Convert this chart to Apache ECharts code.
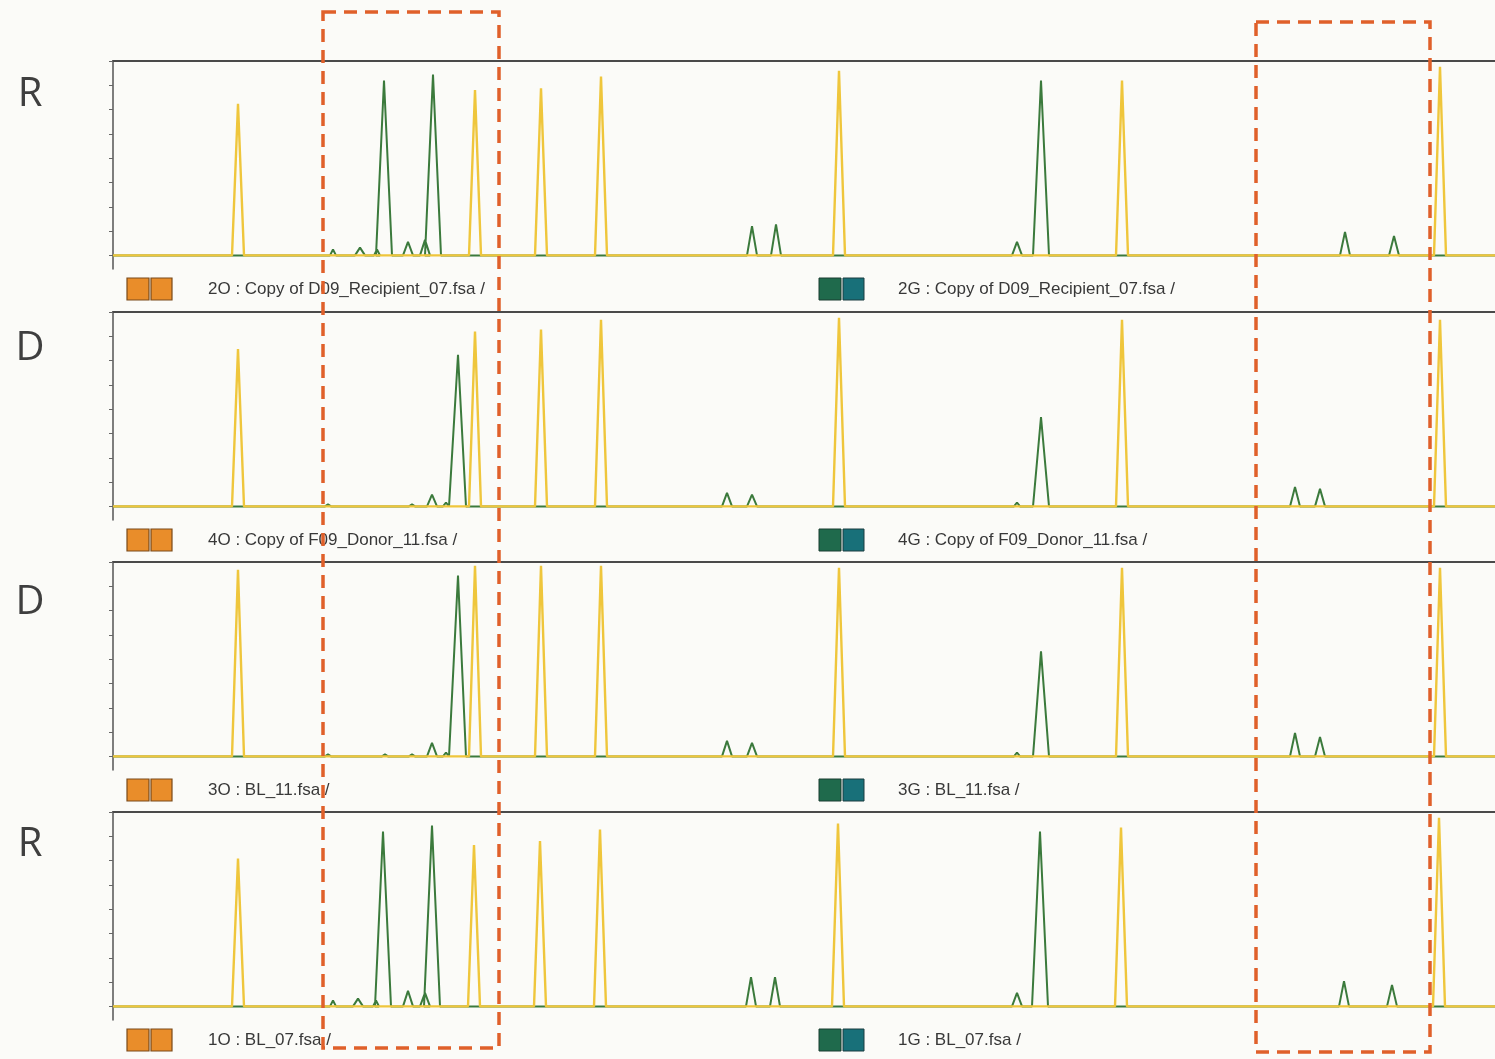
<!DOCTYPE html>
<html>
<head>
<meta charset="utf-8">
<script src="https://cdn.jsdelivr.net/npm/echarts@6/dist/echarts.min.js"></script>
<style>
  html, body { margin: 0; padding: 0; background: #fbfbf8; }
  #chart { width: 1495px; height: 1059px; }
</style>
</head>
<body>
<div id="chart"></div>
<script>
// ---------- data (x = migration position units, y = relative signal, 100 = panel top) ----------
const X_MAX = 1382;
const sampleLabels = ['R', 'D', 'D', 'R'];
const orangeTitles = [
  '2O : Copy of D09_Recipient_07.fsa /',
  '4O : Copy of F09_Donor_11.fsa /',
  '3O : BL_11.fsa /',
  '1O : BL_07.fsa /'
];
const greenTitles = [
  '2G : Copy of D09_Recipient_07.fsa /',
  '4G : Copy of F09_Donor_11.fsa /',
  '3G : BL_11.fsa /',
  '1G : BL_07.fsa /'
];
const yTickValues = [0, 12.5, 25, 37.5, 50, 62.5, 75, 87.5, 100];

// yellow (size standard) peaks
const yellowPos1 = [125, 362, 428, 488, 726, 1009, 1327];
const yellowH1   = [78, 85, 86, 92, 95, 90, 97];
const yellowPos2 = [125, 362, 428, 488, 726, 1009, 1327];
const yellowH2   = [81, 90, 91, 96, 97, 96, 96];
const yellowPos3 = [125, 362, 428, 488, 726, 1009, 1327];
const yellowH3   = [96, 98, 98, 98, 97, 97, 97];
const yellowPos4 = [125, 361, 427, 487, 725, 1008, 1326];
const yellowH4   = [76, 83, 85, 91, 94, 92, 97];

// green (sample) peaks
const greenPos1 = [220, 247, 264, 271, 295, 312, 320, 639, 663, 904, 928, 1232, 1281];
const greenH1   = [3, 4, 3, 90, 7, 8, 93, 15, 16, 7, 90, 12, 10];
const greenPos2 = [215, 299, 319, 333, 345, 614, 639, 904, 928, 1182, 1207];
const greenH2   = [1, 1, 6, 2, 78, 7, 6, 2, 46, 10, 9];
const greenPos3 = [215, 272, 299, 319, 333, 345, 614, 639, 904, 928, 1182, 1207];
const greenH3   = [1, 1, 1, 7, 2, 93, 8, 7, 2, 54, 12, 10];
const greenPos4 = [220, 245, 263, 270, 295, 312, 319, 638, 662, 904, 927, 1231, 1279];
const greenH4   = [3, 4, 3, 90, 8, 7, 93, 15, 15, 7, 90, 13, 11];

const yellowPanels = [[yellowPos1, yellowH1], [yellowPos2, yellowH2], [yellowPos3, yellowH3], [yellowPos4, yellowH4]];
const greenPanels  = [[greenPos1, greenH1], [greenPos2, greenH2], [greenPos3, greenH3], [greenPos4, greenH4]];

// ---------- build trace (baseline + triangular peak per value) ----------
function trace(pos, h, big, small, tiny) {
  const pts = [[0, 0]];
  for (let i = 0; i < pos.length; i++) {
    const w = h[i] >= 30 ? big : (h[i] > 3 ? small : tiny);
    pts.push([pos[i] - w, 0], [pos[i], h[i]], [pos[i] + w, 0]);
  }
  pts.push([X_MAX, 0]);
  return pts;
}

// ---------- layout ----------
const GRID_LEFT = 113;
const GRID_TOPS = [61, 312, 562, 812];
const LETTER_CENTERS = [95, 349, 603, 845];
const GRID_H = 208;
const Y_MIN = -7, Y_MAX = 100;

const grids = [], xAxes = [], yAxes = [], series = [], graphics = [];
const labelFont = "'Liberation Sans', Arial, sans-serif";

for (let p = 0; p < 4; p++) {
  grids.push({ left: GRID_LEFT, right: 0, top: GRID_TOPS[p], height: GRID_H, containLabel: false });
  xAxes.push({
    gridIndex: p, type: 'value', min: 0, max: X_MAX, position: 'bottom',
    axisLine: { show: true, lineStyle: { color: '#d2d2d0', width: 1 } },
    axisTick: { show: false }, axisLabel: { show: false }, splitLine: { show: false }
  });
  xAxes.push({
    gridIndex: p, type: 'value', min: 0, max: X_MAX, position: 'top',
    axisLine: { show: true, onZero: false, lineStyle: { color: '#4a4a4a', width: 2 } },
    axisTick: { show: false }, axisLabel: { show: false }, splitLine: { show: false }
  });
  yAxes.push({
    gridIndex: p, type: 'value', min: Y_MIN, max: Y_MAX,
    axisLine: { show: true, onZero: false, lineStyle: { color: '#555', width: 1.5 } },
    axisTick: { show: true, inside: false, length: 4, customValues: yTickValues, lineStyle: { color: '#666', width: 1 } },
    axisLabel: { show: false }, splitLine: { show: false }
  });
  series.push({
    type: 'line', xAxisIndex: p * 2, yAxisIndex: p, showSymbol: false, silent: true,
    data: trace(greenPanels[p][0], greenPanels[p][1], 8, 5, 3),
    lineStyle: { color: '#3b7a3c', width: 2 }, z: 2, animation: false
  });
  series.push({
    type: 'line', xAxisIndex: p * 2, yAxisIndex: p, showSymbol: false, silent: true,
    data: trace(yellowPanels[p][0], yellowPanels[p][1], 6, 6, 6),
    lineStyle: { color: '#efc63c', width: 2.4 }, z: 3, animation: false
  });

  // sample letter on the left
  graphics.push({
    type: 'text', x: 30, y: LETTER_CENTERS[p],
    style: { text: sampleLabels[p], font: "40px 'Open Sans', 'Noto Sans', sans-serif", fill: '#3f3f3f',
             textAlign: 'center', textVerticalAlign: 'middle' }
  });

  // label row under the panel
  const rowY = GRID_TOPS[p] + GRID_H + 20;
  graphics.push(
    { type: 'rect', shape: { x: 127, y: rowY - 11, width: 22, height: 22 }, style: { fill: '#e98d2a', stroke: '#7a4a1a', lineWidth: 1.2 } },
    { type: 'rect', shape: { x: 151, y: rowY - 11, width: 21, height: 22 }, style: { fill: '#e98d2a', stroke: '#7a4a1a', lineWidth: 1.2 } },
    { type: 'text', x: 208, y: rowY, style: { text: orangeTitles[p], font: '17px ' + labelFont, fill: '#383838', textVerticalAlign: 'middle' } },
    { type: 'rect', shape: { x: 819, y: rowY - 11, width: 22, height: 22 }, style: { fill: '#1f6a4c', stroke: '#1b3d30', lineWidth: 1 } },
    { type: 'rect', shape: { x: 843, y: rowY - 11, width: 21, height: 22 }, style: { fill: '#187079', stroke: '#1b3d40', lineWidth: 1 } },
    { type: 'text', x: 898, y: rowY, style: { text: greenTitles[p], font: '17px ' + labelFont, fill: '#383838', textVerticalAlign: 'middle' } }
  );
}

// highlighted regions (red dashed boxes)
graphics.push(
  { type: 'rect', z: 100, shape: { x: 323, y: 12, width: 176, height: 1036 },
    style: { fill: 'none', stroke: '#e0602a', lineWidth: 3.5, lineDash: [13, 8] } },
  { type: 'rect', z: 100, shape: { x: 1256, y: 22, width: 174, height: 1030 },
    style: { fill: 'none', stroke: '#e0602a', lineWidth: 3.5, lineDash: [13, 8] } }
);

const chart = echarts.init(document.getElementById('chart'), null, { renderer: 'canvas' });
chart.setOption({
  backgroundColor: '#fbfbf8',
  animation: false,
  grid: grids,
  xAxis: xAxes,
  yAxis: yAxes,
  series: series,
  graphic: graphics
});
</script>
</body>
</html>
